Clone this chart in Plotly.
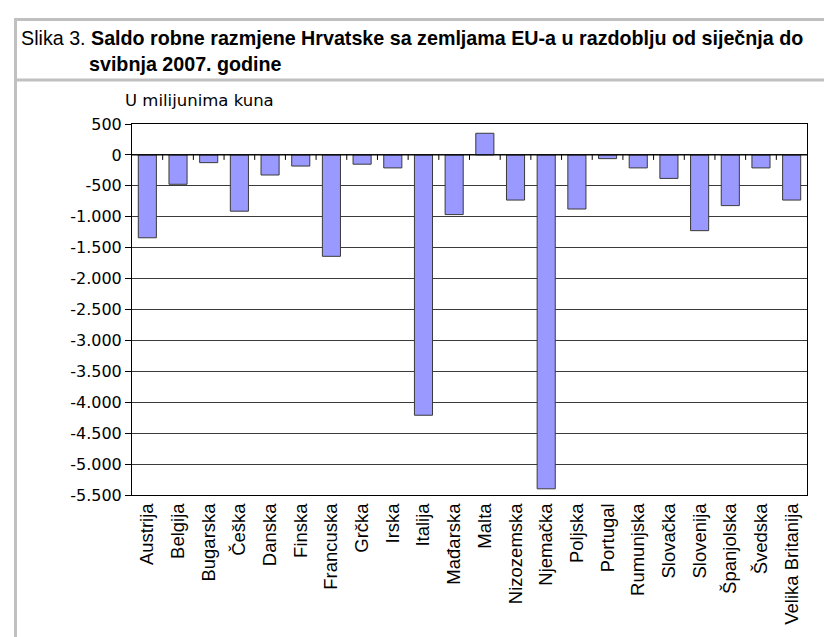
import plotly.graph_objects as go

countries = ["Austrija", "Belgija", "Bugarska", "Češka", "Danska", "Finska", "Francuska",
             "Grčka", "Irska", "Italija", "Mađarska", "Malta", "Nizozemska", "Njemačka",
             "Poljska", "Portugal", "Rumunjska", "Slovačka", "Slovenija", "Španjolska",
             "Švedska", "Velika Britanija"]
saldo = [-1340, -475, -125, -910, -325, -180, -1640,
         -150, -210, -4210, -965, 350, -730, -5400,
         -875, -60, -210, -380, -1225, -820,
         -210, -730]
y_tick_values = [500, 0, -500, -1000, -1500, -2000, -2500, -3000, -3500, -4000, -4500, -5000, -5500]
y_tick_labels = ["500", "0", "-500", "-1.000", "-1.500", "-2.000", "-2.500", "-3.000",
                 "-3.500", "-4.000", "-4.500", "-5.000", "-5.500"]

W, H = 832, 637
L, R, T, B = 124, 33, 116, 150
PW, PH = W - L - R, H - T - B


def px(x):
    return (x - L) / PW


def py(y):
    return (H - B - y) / PH


fig = go.Figure()
fig.add_trace(go.Bar(
    x=countries, y=saldo,
    marker=dict(color="#9999FF", line=dict(color="#3a3a3a", width=1)),
    width=0.59,
))

shapes = []
gray = "#c0c0c0"
# outer frame
shapes.append(dict(type="line", xref="paper", yref="paper", x0=px(6), x1=px(832), y0=py(11.5), y1=py(11.5),
                   line=dict(color=gray, width=3)))
shapes.append(dict(type="line", xref="paper", yref="paper", x0=px(7.5), x1=px(7.5), y0=py(10), y1=py(640),
                   line=dict(color=gray, width=3)))
shapes.append(dict(type="line", xref="paper", yref="paper", x0=px(6), x1=px(832), y0=py(72), y1=py(72),
                   line=dict(color=gray, width=3)))
# zero line
shapes.append(dict(type="line", xref="paper", yref="y", x0=0, x1=1, y0=0, y1=0,
                   line=dict(color="#000000", width=1.2)))
# category ticks on the zero line
for i in range(1, len(countries)):
    shapes.append(dict(type="line", xref="x", yref="y", xsizemode="scaled",
                       ysizemode="pixel", yanchor=0, x0=i - 0.5, x1=i - 0.5, y0=0, y1=-5,
                       line=dict(color="#000000", width=1)))

title_font = dict(family="Liberation Sans, Arial", size=19.7, color="#000000")
annotations = [
    dict(text="Slika 3. <b>Saldo robne razmjene Hrvatske sa zemljama EU-a u razdoblju od siječnja do</b>",
         xref="paper", yref="paper", x=px(11), y=py(29.5), xanchor="left", yanchor="middle",
         showarrow=False, font=title_font),
    dict(text="<b>svibnja 2007. godine</b>",
         xref="paper", yref="paper", x=px(79), y=py(56), xanchor="left", yanchor="middle",
         showarrow=False, font=title_font),
    dict(text="U milijunima kuna",
         xref="paper", yref="paper", x=px(115), y=py(93), xanchor="left", yanchor="middle",
         showarrow=False, font=dict(family="DejaVu Sans, Verdana", size=16.5, color="#000000")),
]

fig.update_layout(
    width=W, height=H,
    margin=dict(l=L, r=R, t=T, b=B, pad=0),
    paper_bgcolor="#ffffff", plot_bgcolor="#ffffff",
    showlegend=False,
    shapes=shapes,
    annotations=annotations,
    bargap=0.41,
)
fig.update_xaxes(
    type="category", tickangle=-90, showgrid=False, zeroline=False,
    showline=True, linecolor="#000000", linewidth=1, mirror=True,
    ticks="", ticklabelstandoff=0,
    tickfont=dict(family="Liberation Sans, Arial", size=18.5, color="#000000"),
)
fig.update_yaxes(
    range=[-5500, 500], tickvals=y_tick_values, ticktext=y_tick_labels,
    showgrid=True, gridcolor="#3a3a3a", gridwidth=1, zeroline=False,
    showline=True, linecolor="#000000", linewidth=1, mirror=True,
    ticks="outside", ticklen=6, tickcolor="#000000",
    tickfont=dict(family="DejaVu Sans, Verdana", size=16, color="#000000"),
)

fig.write_html("out.html")
